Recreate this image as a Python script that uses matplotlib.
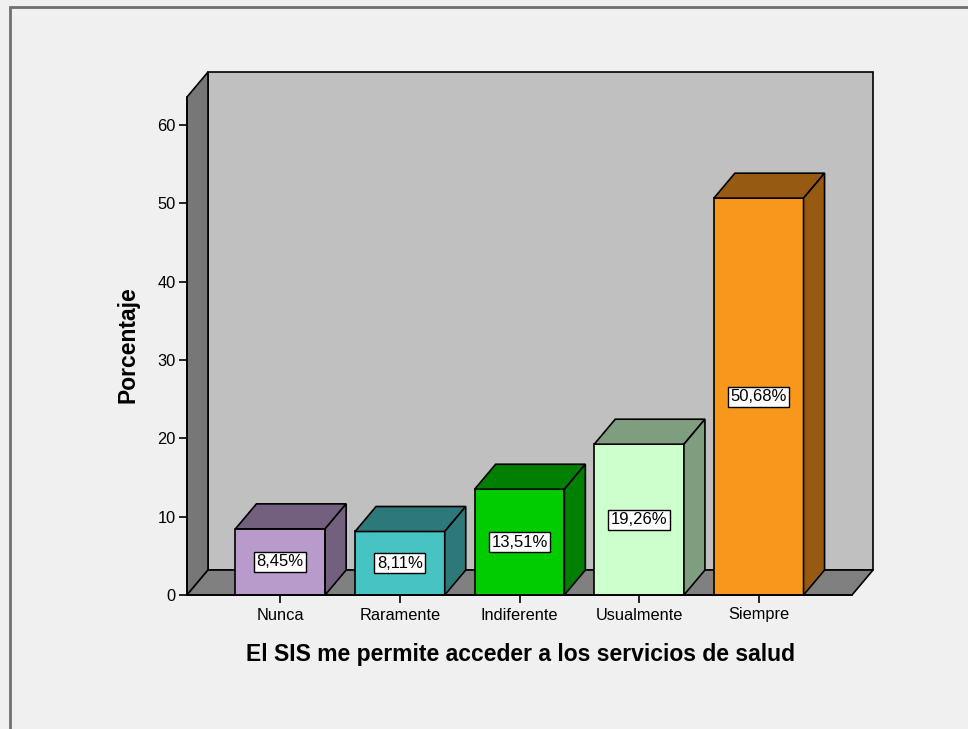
import matplotlib
matplotlib.use("Agg")
import matplotlib.pyplot as plt
from matplotlib.patches import Polygon, Rectangle

categories = ["Nunca", "Raramente", "Indiferente", "Usualmente", "Siempre"]
values = [8.45, 8.11, 13.51, 19.26, 50.68]
value_labels = ["8,45%", "8,11%", "13,51%", "19,26%", "50,68%"]
front_colors = ["#b89acb", "#48c3c3", "#00cc00", "#ccffcc", "#f7981d"]
dark_colors = ["#73607e", "#2d7878", "#007f00", "#7f9e7f", "#965a12"]
yticks = [0, 10, 20, 30, 40, 50, 60]
xlabel = "El SIS me permite acceder a los servicios de salud"
ylabel = "Porcentaje"

plt.rcParams['font.family'] = ['Liberation Sans', 'DejaVu Sans']

fig = plt.figure(figsize=(9.68, 7.29), dpi=100)
fig.patch.set_facecolor("#f0f0f0")

# outer frame
fig.add_artist(Rectangle((10/968, -0.01), 1.0, (729-7)/729 + 0.01, transform=fig.transFigure,
                         fill=False, ec="#707070", lw=2))

ax = fig.add_axes([187/968, 1-595/729, 665/968, 498/729])
ax.set_facecolor("none")

x0, x1 = -0.78, 4.78
ymax = 63.6
dx, dy = 0.1756, 3.19
bw = 0.75
ax.set_xlim(x0, x1)
ax.set_ylim(0, ymax)

kw = dict(ec="black", lw=1.2, clip_on=False, joinstyle="miter")
# back wall
ax.add_patch(Polygon([(x0+dx, dy), (x1+dx, dy), (x1+dx, ymax+dy), (x0+dx, ymax+dy)],
                     fc="#c0c0c0", zorder=1, **kw))
# left wall
ax.add_patch(Polygon([(x0, 0), (x0+dx, dy), (x0+dx, ymax+dy), (x0, ymax)],
                     fc="#777777", zorder=1, **kw))
# floor
ax.add_patch(Polygon([(x0, 0), (x1, 0), (x1+dx, dy), (x0+dx, dy)],
                     fc="#808080", zorder=1, **kw))

for i, (v, lab, fc, dc) in enumerate(zip(values, value_labels, front_colors, dark_colors)):
    l, r = i - bw/2, i + bw/2
    ax.add_patch(Polygon([(l, 0), (r, 0), (r, v), (l, v)], fc=fc, zorder=3, **kw))
    ax.add_patch(Polygon([(l, v), (r, v), (r+dx, v+dy), (l+dx, v+dy)], fc=dc, zorder=3, **kw))
    ax.add_patch(Polygon([(r, 0), (r+dx, dy), (r+dx, v+dy), (r, v)], fc=dc, zorder=3, **kw))
    ax.text(i, v/2, lab, ha="center", va="center", fontsize=12, zorder=5,
            bbox=dict(boxstyle="square,pad=0.15", fc="white", ec="black", lw=1))

for s in ["top", "right"]:
    ax.spines[s].set_visible(False)
for s in ["left", "bottom"]:
    ax.spines[s].set_linewidth(1.2)
    ax.spines[s].set_zorder(6)

ax.set_yticks(yticks)
ax.set_yticklabels([str(t) for t in yticks])
ax.set_xticks(range(len(categories)))
ax.set_xticklabels(categories)
ax.tick_params(axis="both", direction="out", length=6, width=1.2, colors="black",
               labelsize=11.8)
ax.tick_params(axis="y", pad=2)
ax.tick_params(axis="x", pad=3)

ax.set_xlabel(xlabel, fontsize=16.5, fontweight="bold")
ax.xaxis.set_label_coords(0.5008, -0.096)
ax.set_ylabel(ylabel, fontsize=16.5, fontweight="bold")
ax.yaxis.set_label_coords(-0.0707, 0.502)

fig.savefig("out.png", dpi=100, facecolor=fig.get_facecolor())
